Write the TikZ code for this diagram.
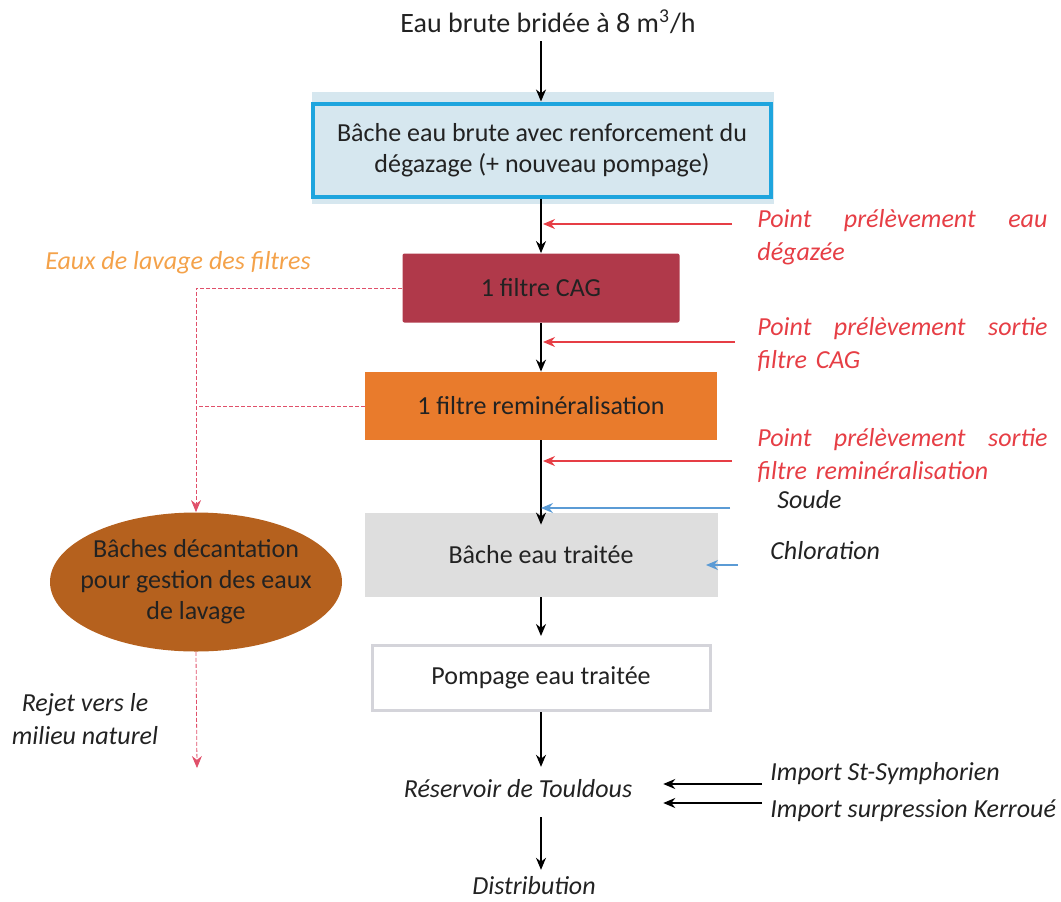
\documentclass[tikz,border=0pt]{standalone}
\usepackage{fontspec}
\setmainfont{Carlito}
\usetikzlibrary{positioning,shapes,arrows,arrows.meta}

\definecolor{bleucadre}{HTML}{1EA5DE}
\definecolor{bleufond}{HTML}{D6E7EF}
\definecolor{rougecag}{HTML}{B0394A}
\definecolor{orangemin}{HTML}{E97B2C}
\definecolor{grisfond}{HTML}{DEDEDE}
\definecolor{griscadre}{HTML}{D4D4DA}
\definecolor{prelev}{HTML}{E63E45}
\definecolor{lavtxt}{HTML}{F4A24A}
\definecolor{lavtrait}{HTML}{E0506A}
\definecolor{reactif}{HTML}{5B9BD5}
\definecolor{decant}{HTML}{B5611E}
\definecolor{texte}{HTML}{222222}

\begin{document}
\begin{tikzpicture}[
    >={Stealth[length=6pt,width=5pt]},
    x=0.5pt, y=-0.5pt,
    font=\fontsize{13}{15.5}\selectfont,
    text=texte,
    pil/.style={
        ->,
        thick,
        color=black,},
    rouge/.style={
        ->,
        semithick,
        color=prelev,
        shorten >=1pt,},
    bleu/.style={
        ->,
        semithick,
        color=reactif,},
    lavage/.style={
        ->,
        dash pattern=on 2pt off 1pt,
        color=lavtrait,},
    note/.style={
        font=\fontsize{13}{16.5}\selectfont\itshape,
        text=prelev,
        text width=145pt,
        align=left,
        inner sep=0pt,
        anchor=west,},
    lib/.style={
        font=\fontsize{13}{16}\selectfont\itshape,
        inner sep=0pt,
        anchor=west,}
]
\useasboundingbox (0,0) rectangle (1061,901);

% chaine de traitement
\node[font=\fontsize{14}{16}\selectfont] (titre) at (548,22) {Eau brute bridée à 8 m\textsuperscript{3}/h};
\fill[bleufond] (312,92) rectangle (774,204);
\node[rectangle,draw=bleucadre,line width=2pt,fill=bleufond,minimum width=229pt,minimum height=46.5pt,align=center] (bache) at (542,150) {Bâche eau brute avec renforcement du\\dégazage (+ nouveau pompage)};
\node[rectangle,rounded corners=1pt,fill=rougecag,minimum width=138.5pt,minimum height=34.5pt] (cag) at (541,288) {1 filtre CAG};
\node[rectangle,fill=orangemin,minimum width=176pt,minimum height=34pt] (remin) at (541,406) {1 filtre reminéralisation};
\node[rectangle,fill=grisfond,minimum width=176.5pt,minimum height=42pt] (traitee) at (541,555) {Bâche eau traitée};
\node[rectangle,draw=griscadre,line width=1.5pt,fill=white,minimum width=169pt,minimum height=32.5pt] (pompage) at (541,678) {Pompage eau traitée};
\node[font=\fontsize{13}{15.5}\selectfont\itshape] (touldous) at (518,789) {Réservoir de Touldous};
\node[font=\fontsize{13}{15.5}\selectfont\itshape] (distrib) at (534,886) {Distribution};

\draw[pil] (titre.south -| cag.north) -- (bache.north -| cag.north);
\path[pil] (bache.south -| cag.north) edge (cag);
\path[pil] (cag) edge (remin);
\path[pil] (remin) edge[shorten >=-6pt] (traitee);
\path[pil] (traitee) edge[shorten >=4pt] (pompage);
\draw[pil,shorten >=3pt] (pompage) -- (pompage |- touldous.north);
\draw[pil,shorten <=6pt] (pompage |- touldous.south) -- (pompage |- distrib.north);

% points de prelevement et reactifs
\node[note] (prel1) at (757,237) {Point\hfill prélèvement\hfill eau\\dégazée};
\node[note] (prel2) at (757,344) {Point\hfill prélèvement\hfill sortie\\filtre CAG};
\node[note] (prel3) at (757,455) {Point\hfill prélèvement\hfill sortie\\filtre reminéralisation};
\node[lib] (soude) at (777,500) {Soude};
\node[lib] (chlore) at (770,551) {Chloration};

\coordinate (q1) at (732,224);
\coordinate (q2) at (735,342);
\coordinate (q3) at (732,461);
\coordinate (q4) at (730,508);
\coordinate (q5) at (738,565);
\coordinate (c5) at (706,565);

\draw[rouge] (q1) -- (q1 -| cag.north);
\draw[rouge] (q2) -- (q2 -| cag.north);
\draw[rouge] (q3) -- (q3 -| cag.north);
\draw[bleu] (q4) -- (q4 -| cag.north);
\draw[bleu] (q5) -- (c5);

% imports
\node[lib] (imp1) at (770,774) {Import St-Symphorien};
\node[lib] (imp2) at (770,811) {Import surpression Kerroué};
\coordinate (i1) at (762,784);
\coordinate (i2) at (762,803);
\draw[pil,shorten >=12pt] (i1) -- (i1 -| touldous.east);
\draw[pil,shorten >=12pt] (i2) -- (i2 -| touldous.east);

% eaux de lavage
\node[font=\fontsize{13}{15.5}\selectfont\itshape,text=lavtxt] (lavtitre) at (178,263) {Eaux de lavage des filtres};
\node[ellipse,fill=decant,minimum width=146pt,minimum height=69.5pt,inner xsep=-7pt,inner ysep=0pt,align=center] (decant) at (196,582) {Bâches décantation\\pour gestion des eaux\\de lavage};
\node[font=\fontsize{13}{16.5}\selectfont\itshape,align=center] (rejet) at (85,719) {Rejet vers le\\milieu naturel};
\coordinate (sortie) at (197,768);

\draw[lavage] (cag.west) -- (cag.west -| decant.north) -- (decant.north);
\draw[lavage,-] (remin.west) -- (remin.west -| decant.north);
\draw[lavage] (decant.south) -- (sortie);

\end{tikzpicture}
\end{document}
